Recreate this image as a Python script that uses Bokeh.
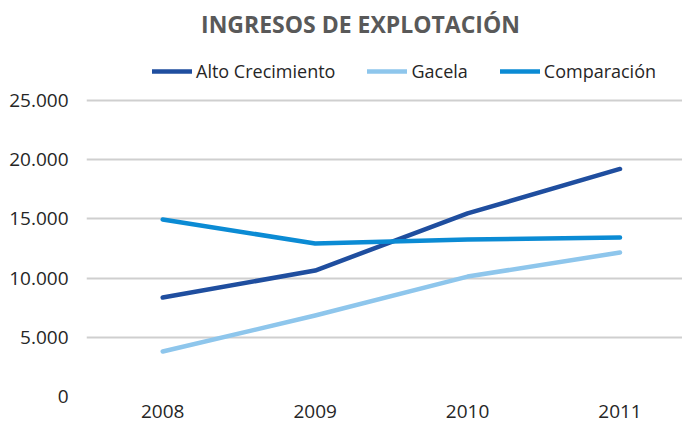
from bokeh.plotting import figure
from bokeh.models import Legend, LegendItem, Label, FixedTicker, CustomJSTickFormatter, Range1d
from bokeh.embed import file_html
from bokeh.resources import INLINE

years = [2008, 2009, 2010, 2011]
alto = [8360, 10640, 15460, 19220]
gacela = [3800, 6840, 10130, 12160]
comparacion = [14950, 12920, 13260, 13430]
y_ticks = [0, 5000, 10000, 15000, 20000, 25000]
series_names = ["Alto Crecimiento", "Gacela", "Comparación"]
colors = ["#1f4e9f", "#8ec6ec", "#0b8bd4"]
title_text = "INGRESOS DE EXPLOTACIÓN"

FONT = "Open Sans"

p = figure(width=682, height=427, output_backend="svg", toolbar_location=None,
           x_range=Range1d(2007.5, 2011.41), y_range=Range1d(0, 33446),
           min_border_left=86, min_border_right=0, min_border_top=0, min_border_bottom=31)
p.outline_line_color = None
p.background_fill_color = "white"
p.border_fill_color = "white"

p.xgrid.grid_line_color = None
p.ygrid.grid_line_color = "#cfcfcf"
p.ygrid.grid_line_width = 2
p.yaxis.ticker = FixedTicker(ticks=y_ticks)
p.xaxis.ticker = FixedTicker(ticks=years)
p.yaxis.formatter = CustomJSTickFormatter(code="""
    return tick.toFixed(0).replace(/\\B(?=(\\d{3})+(?!\\d))/g, '.');
""")
p.xaxis.formatter = CustomJSTickFormatter(code="return tick.toFixed(0);")

for ax in (p.xaxis[0], p.yaxis[0]):
    ax.axis_line_color = None
    ax.major_tick_line_color = None
    ax.minor_tick_line_color = None
    ax.major_tick_out = 0
    ax.major_tick_in = 0
    ax.major_label_text_font = FONT
    ax.major_label_text_font_size = "19px"
    ax.major_label_text_color = "#262626"
p.yaxis.major_label_standoff = 18
p.xaxis.major_label_standoff = 8

renderers = []
for vals, c in zip([alto, gacela, comparacion], colors):
    r = p.line(years, vals, line_color=c, line_width=4.5, line_cap="round", line_join="round")
    renderers.append(r)

legend = Legend(items=[LegendItem(label=n, renderers=[r]) for n, r in zip(series_names, renderers)],
                orientation="horizontal", location=(66, 313),
                glyph_width=40, glyph_height=20, label_height=20, label_standoff=4,
                spacing=32, padding=0, margin=0,
                border_line_color=None, background_fill_alpha=0,
                label_text_font=FONT, label_text_font_size="18px", label_text_color="#262626")
p.add_layout(legend, "center")

title = Label(x=274, y=373, x_units="screen", y_units="screen", text=title_text,
              text_align="center", text_baseline="alphabetic",
              text_font=FONT, text_font_size="23px", text_font_style="bold",
              text_color="#595959")
p.add_layout(title)

open("out.html", "w").write(file_html(p, INLINE))
